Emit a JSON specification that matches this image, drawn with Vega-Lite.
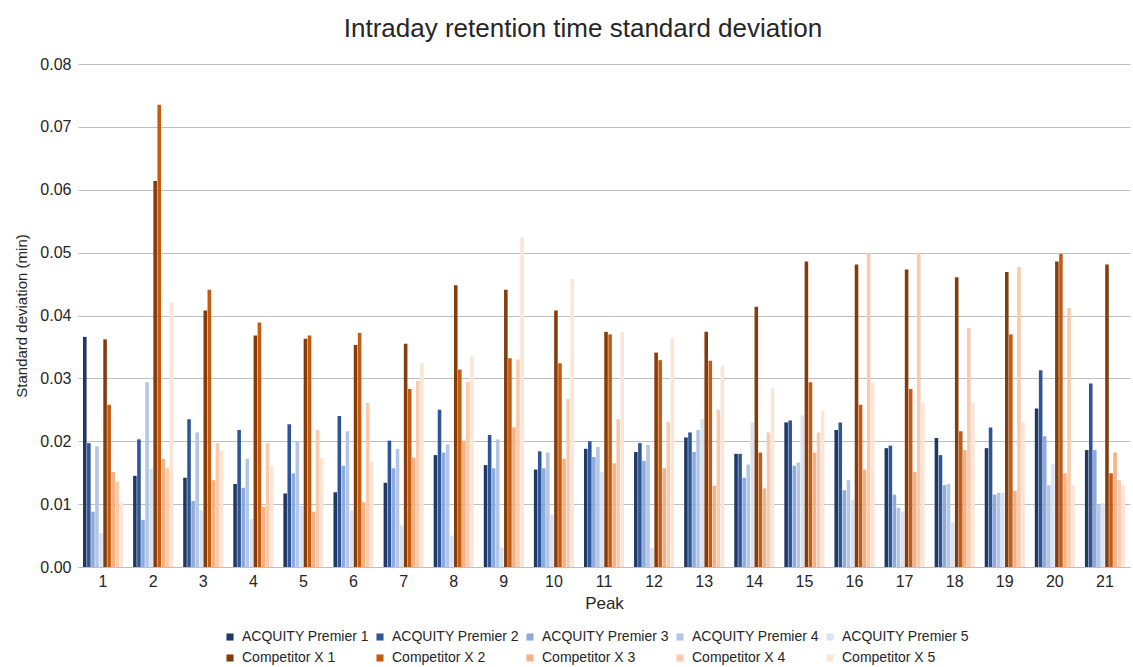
{
  "$schema": "https://vega.github.io/schema/vega-lite/v6.json",
  "width": 1052,
  "height": 503,
  "autosize": {"type": "none"},
  "padding": {"left": 78, "top": 64, "right": 3, "bottom": 100},
  "background": "white",
  "title": {
    "text": "Intraday retention time standard deviation",
    "fontSize": 26,
    "fontWeight": "normal",
    "color": "#262626",
    "font": "Liberation Sans",
    "anchor": "middle",
    "dx": -21,
    "offset": 14
  },
  "config": {
    "font": "Liberation Sans",
    "view": {"stroke": null}
  },
  "data": {
    "values": [
      {"peak": 1, "series": "ACQUITY Premier 1", "value": 0.0366},
      {"peak": 1, "series": "ACQUITY Premier 2", "value": 0.0197},
      {"peak": 1, "series": "ACQUITY Premier 3", "value": 0.0088},
      {"peak": 1, "series": "ACQUITY Premier 4", "value": 0.0192},
      {"peak": 1, "series": "ACQUITY Premier 5", "value": 0.0054},
      {"peak": 1, "series": "Competitor X 1", "value": 0.0362},
      {"peak": 1, "series": "Competitor X 2", "value": 0.0258},
      {"peak": 1, "series": "Competitor X 3", "value": 0.0151},
      {"peak": 1, "series": "Competitor X 4", "value": 0.0136},
      {"peak": 1, "series": "Competitor X 5", "value": 0.0103},
      {"peak": 2, "series": "ACQUITY Premier 1", "value": 0.0145},
      {"peak": 2, "series": "ACQUITY Premier 2", "value": 0.0203},
      {"peak": 2, "series": "ACQUITY Premier 3", "value": 0.0075},
      {"peak": 2, "series": "ACQUITY Premier 4", "value": 0.0294},
      {"peak": 2, "series": "ACQUITY Premier 5", "value": 0.0156},
      {"peak": 2, "series": "Competitor X 1", "value": 0.0614},
      {"peak": 2, "series": "Competitor X 2", "value": 0.0735},
      {"peak": 2, "series": "Competitor X 3", "value": 0.0172},
      {"peak": 2, "series": "Competitor X 4", "value": 0.0157},
      {"peak": 2, "series": "Competitor X 5", "value": 0.0421},
      {"peak": 3, "series": "ACQUITY Premier 1", "value": 0.0142},
      {"peak": 3, "series": "ACQUITY Premier 2", "value": 0.0235},
      {"peak": 3, "series": "ACQUITY Premier 3", "value": 0.0105},
      {"peak": 3, "series": "ACQUITY Premier 4", "value": 0.0214},
      {"peak": 3, "series": "ACQUITY Premier 5", "value": 0.0090},
      {"peak": 3, "series": "Competitor X 1", "value": 0.0408},
      {"peak": 3, "series": "Competitor X 2", "value": 0.0441},
      {"peak": 3, "series": "Competitor X 3", "value": 0.0138},
      {"peak": 3, "series": "Competitor X 4", "value": 0.0197},
      {"peak": 3, "series": "Competitor X 5", "value": 0.0185},
      {"peak": 4, "series": "ACQUITY Premier 1", "value": 0.0132},
      {"peak": 4, "series": "ACQUITY Premier 2", "value": 0.0218},
      {"peak": 4, "series": "ACQUITY Premier 3", "value": 0.0126},
      {"peak": 4, "series": "ACQUITY Premier 4", "value": 0.0172},
      {"peak": 4, "series": "ACQUITY Premier 5", "value": 0.0076},
      {"peak": 4, "series": "Competitor X 1", "value": 0.0368},
      {"peak": 4, "series": "Competitor X 2", "value": 0.0389},
      {"peak": 4, "series": "Competitor X 3", "value": 0.0096},
      {"peak": 4, "series": "Competitor X 4", "value": 0.0197},
      {"peak": 4, "series": "Competitor X 5", "value": 0.0161},
      {"peak": 5, "series": "ACQUITY Premier 1", "value": 0.0117},
      {"peak": 5, "series": "ACQUITY Premier 2", "value": 0.0227},
      {"peak": 5, "series": "ACQUITY Premier 3", "value": 0.0149},
      {"peak": 5, "series": "ACQUITY Premier 4", "value": 0.0199},
      {"peak": 5, "series": "ACQUITY Premier 5", "value": 0.0097},
      {"peak": 5, "series": "Competitor X 1", "value": 0.0363},
      {"peak": 5, "series": "Competitor X 2", "value": 0.0368},
      {"peak": 5, "series": "Competitor X 3", "value": 0.0088},
      {"peak": 5, "series": "Competitor X 4", "value": 0.0218},
      {"peak": 5, "series": "Competitor X 5", "value": 0.0174},
      {"peak": 6, "series": "ACQUITY Premier 1", "value": 0.0119},
      {"peak": 6, "series": "ACQUITY Premier 2", "value": 0.0240},
      {"peak": 6, "series": "ACQUITY Premier 3", "value": 0.0161},
      {"peak": 6, "series": "ACQUITY Premier 4", "value": 0.0216},
      {"peak": 6, "series": "ACQUITY Premier 5", "value": 0.0090},
      {"peak": 6, "series": "Competitor X 1", "value": 0.0353},
      {"peak": 6, "series": "Competitor X 2", "value": 0.0372},
      {"peak": 6, "series": "Competitor X 3", "value": 0.0103},
      {"peak": 6, "series": "Competitor X 4", "value": 0.0261},
      {"peak": 6, "series": "Competitor X 5", "value": 0.0168},
      {"peak": 7, "series": "ACQUITY Premier 1", "value": 0.0134},
      {"peak": 7, "series": "ACQUITY Premier 2", "value": 0.0201},
      {"peak": 7, "series": "ACQUITY Premier 3", "value": 0.0157},
      {"peak": 7, "series": "ACQUITY Premier 4", "value": 0.0188},
      {"peak": 7, "series": "ACQUITY Premier 5", "value": 0.0066},
      {"peak": 7, "series": "Competitor X 1", "value": 0.0355},
      {"peak": 7, "series": "Competitor X 2", "value": 0.0283},
      {"peak": 7, "series": "Competitor X 3", "value": 0.0174},
      {"peak": 7, "series": "Competitor X 4", "value": 0.0296},
      {"peak": 7, "series": "Competitor X 5", "value": 0.0324},
      {"peak": 8, "series": "ACQUITY Premier 1", "value": 0.0178},
      {"peak": 8, "series": "ACQUITY Premier 2", "value": 0.0250},
      {"peak": 8, "series": "ACQUITY Premier 3", "value": 0.0182},
      {"peak": 8, "series": "ACQUITY Premier 4", "value": 0.0195},
      {"peak": 8, "series": "ACQUITY Premier 5", "value": 0.0050},
      {"peak": 8, "series": "Competitor X 1", "value": 0.0448},
      {"peak": 8, "series": "Competitor X 2", "value": 0.0314},
      {"peak": 8, "series": "Competitor X 3", "value": 0.0201},
      {"peak": 8, "series": "Competitor X 4", "value": 0.0294},
      {"peak": 8, "series": "Competitor X 5", "value": 0.0335},
      {"peak": 9, "series": "ACQUITY Premier 1", "value": 0.0162},
      {"peak": 9, "series": "ACQUITY Premier 2", "value": 0.0210},
      {"peak": 9, "series": "ACQUITY Premier 3", "value": 0.0157},
      {"peak": 9, "series": "ACQUITY Premier 4", "value": 0.0203},
      {"peak": 9, "series": "ACQUITY Premier 5", "value": 0.0031},
      {"peak": 9, "series": "Competitor X 1", "value": 0.0441},
      {"peak": 9, "series": "Competitor X 2", "value": 0.0332},
      {"peak": 9, "series": "Competitor X 3", "value": 0.0222},
      {"peak": 9, "series": "Competitor X 4", "value": 0.0330},
      {"peak": 9, "series": "Competitor X 5", "value": 0.0524},
      {"peak": 10, "series": "ACQUITY Premier 1", "value": 0.0155},
      {"peak": 10, "series": "ACQUITY Premier 2", "value": 0.0184},
      {"peak": 10, "series": "ACQUITY Premier 3", "value": 0.0157},
      {"peak": 10, "series": "ACQUITY Premier 4", "value": 0.0182},
      {"peak": 10, "series": "ACQUITY Premier 5", "value": 0.0083},
      {"peak": 10, "series": "Competitor X 1", "value": 0.0408},
      {"peak": 10, "series": "Competitor X 2", "value": 0.0324},
      {"peak": 10, "series": "Competitor X 3", "value": 0.0172},
      {"peak": 10, "series": "Competitor X 4", "value": 0.0267},
      {"peak": 10, "series": "Competitor X 5", "value": 0.0458},
      {"peak": 11, "series": "ACQUITY Premier 1", "value": 0.0188},
      {"peak": 11, "series": "ACQUITY Premier 2", "value": 0.0200},
      {"peak": 11, "series": "ACQUITY Premier 3", "value": 0.0175},
      {"peak": 11, "series": "ACQUITY Premier 4", "value": 0.0191},
      {"peak": 11, "series": "ACQUITY Premier 5", "value": 0.0151},
      {"peak": 11, "series": "Competitor X 1", "value": 0.0374},
      {"peak": 11, "series": "Competitor X 2", "value": 0.0370},
      {"peak": 11, "series": "Competitor X 3", "value": 0.0165},
      {"peak": 11, "series": "Competitor X 4", "value": 0.0235},
      {"peak": 11, "series": "Competitor X 5", "value": 0.0374},
      {"peak": 12, "series": "ACQUITY Premier 1", "value": 0.0183},
      {"peak": 12, "series": "ACQUITY Premier 2", "value": 0.0197},
      {"peak": 12, "series": "ACQUITY Premier 3", "value": 0.0169},
      {"peak": 12, "series": "ACQUITY Premier 4", "value": 0.0194},
      {"peak": 12, "series": "ACQUITY Premier 5", "value": 0.0030},
      {"peak": 12, "series": "Competitor X 1", "value": 0.0341},
      {"peak": 12, "series": "Competitor X 2", "value": 0.0329},
      {"peak": 12, "series": "Competitor X 3", "value": 0.0157},
      {"peak": 12, "series": "Competitor X 4", "value": 0.0231},
      {"peak": 12, "series": "Competitor X 5", "value": 0.0364},
      {"peak": 13, "series": "ACQUITY Premier 1", "value": 0.0206},
      {"peak": 13, "series": "ACQUITY Premier 2", "value": 0.0214},
      {"peak": 13, "series": "ACQUITY Premier 3", "value": 0.0183},
      {"peak": 13, "series": "ACQUITY Premier 4", "value": 0.0218},
      {"peak": 13, "series": "ACQUITY Premier 5", "value": 0.0235},
      {"peak": 13, "series": "Competitor X 1", "value": 0.0374},
      {"peak": 13, "series": "Competitor X 2", "value": 0.0328},
      {"peak": 13, "series": "Competitor X 3", "value": 0.0129},
      {"peak": 13, "series": "Competitor X 4", "value": 0.0250},
      {"peak": 13, "series": "Competitor X 5", "value": 0.0320},
      {"peak": 14, "series": "ACQUITY Premier 1", "value": 0.0180},
      {"peak": 14, "series": "ACQUITY Premier 2", "value": 0.0180},
      {"peak": 14, "series": "ACQUITY Premier 3", "value": 0.0142},
      {"peak": 14, "series": "ACQUITY Premier 4", "value": 0.0163},
      {"peak": 14, "series": "ACQUITY Premier 5", "value": 0.0230},
      {"peak": 14, "series": "Competitor X 1", "value": 0.0414},
      {"peak": 14, "series": "Competitor X 2", "value": 0.0182},
      {"peak": 14, "series": "Competitor X 3", "value": 0.0125},
      {"peak": 14, "series": "Competitor X 4", "value": 0.0214},
      {"peak": 14, "series": "Competitor X 5", "value": 0.0284},
      {"peak": 15, "series": "ACQUITY Premier 1", "value": 0.0230},
      {"peak": 15, "series": "ACQUITY Premier 2", "value": 0.0233},
      {"peak": 15, "series": "ACQUITY Premier 3", "value": 0.0161},
      {"peak": 15, "series": "ACQUITY Premier 4", "value": 0.0166},
      {"peak": 15, "series": "ACQUITY Premier 5", "value": 0.0241},
      {"peak": 15, "series": "Competitor X 1", "value": 0.0486},
      {"peak": 15, "series": "Competitor X 2", "value": 0.0294},
      {"peak": 15, "series": "Competitor X 3", "value": 0.0182},
      {"peak": 15, "series": "Competitor X 4", "value": 0.0214},
      {"peak": 15, "series": "Competitor X 5", "value": 0.0248},
      {"peak": 16, "series": "ACQUITY Premier 1", "value": 0.0218},
      {"peak": 16, "series": "ACQUITY Premier 2", "value": 0.0230},
      {"peak": 16, "series": "ACQUITY Premier 3", "value": 0.0122},
      {"peak": 16, "series": "ACQUITY Premier 4", "value": 0.0138},
      {"peak": 16, "series": "ACQUITY Premier 5", "value": 0.0107},
      {"peak": 16, "series": "Competitor X 1", "value": 0.0481},
      {"peak": 16, "series": "Competitor X 2", "value": 0.0258},
      {"peak": 16, "series": "Competitor X 3", "value": 0.0155},
      {"peak": 16, "series": "Competitor X 4", "value": 0.0499},
      {"peak": 16, "series": "Competitor X 5", "value": 0.0294},
      {"peak": 17, "series": "ACQUITY Premier 1", "value": 0.0189},
      {"peak": 17, "series": "ACQUITY Premier 2", "value": 0.0193},
      {"peak": 17, "series": "ACQUITY Premier 3", "value": 0.0115},
      {"peak": 17, "series": "ACQUITY Premier 4", "value": 0.0094},
      {"peak": 17, "series": "ACQUITY Premier 5", "value": 0.0088},
      {"peak": 17, "series": "Competitor X 1", "value": 0.0473},
      {"peak": 17, "series": "Competitor X 2", "value": 0.0283},
      {"peak": 17, "series": "Competitor X 3", "value": 0.0151},
      {"peak": 17, "series": "Competitor X 4", "value": 0.0500},
      {"peak": 17, "series": "Competitor X 5", "value": 0.0261},
      {"peak": 18, "series": "ACQUITY Premier 1", "value": 0.0205},
      {"peak": 18, "series": "ACQUITY Premier 2", "value": 0.0178},
      {"peak": 18, "series": "ACQUITY Premier 3", "value": 0.0130},
      {"peak": 18, "series": "ACQUITY Premier 4", "value": 0.0132},
      {"peak": 18, "series": "ACQUITY Premier 5", "value": 0.0071},
      {"peak": 18, "series": "Competitor X 1", "value": 0.0461},
      {"peak": 18, "series": "Competitor X 2", "value": 0.0216},
      {"peak": 18, "series": "Competitor X 3", "value": 0.0186},
      {"peak": 18, "series": "Competitor X 4", "value": 0.0380},
      {"peak": 18, "series": "Competitor X 5", "value": 0.0261},
      {"peak": 19, "series": "ACQUITY Premier 1", "value": 0.0189},
      {"peak": 19, "series": "ACQUITY Premier 2", "value": 0.0222},
      {"peak": 19, "series": "ACQUITY Premier 3", "value": 0.0115},
      {"peak": 19, "series": "ACQUITY Premier 4", "value": 0.0118},
      {"peak": 19, "series": "ACQUITY Premier 5", "value": 0.0118},
      {"peak": 19, "series": "Competitor X 1", "value": 0.0469},
      {"peak": 19, "series": "Competitor X 2", "value": 0.0370},
      {"peak": 19, "series": "Competitor X 3", "value": 0.0121},
      {"peak": 19, "series": "Competitor X 4", "value": 0.0477},
      {"peak": 19, "series": "Competitor X 5", "value": 0.0230},
      {"peak": 20, "series": "ACQUITY Premier 1", "value": 0.0252},
      {"peak": 20, "series": "ACQUITY Premier 2", "value": 0.0313},
      {"peak": 20, "series": "ACQUITY Premier 3", "value": 0.0208},
      {"peak": 20, "series": "ACQUITY Premier 4", "value": 0.0130},
      {"peak": 20, "series": "ACQUITY Premier 5", "value": 0.0164},
      {"peak": 20, "series": "Competitor X 1", "value": 0.0486},
      {"peak": 20, "series": "Competitor X 2", "value": 0.0498},
      {"peak": 20, "series": "Competitor X 3", "value": 0.0149},
      {"peak": 20, "series": "Competitor X 4", "value": 0.0412},
      {"peak": 20, "series": "Competitor X 5", "value": 0.0130},
      {"peak": 21, "series": "ACQUITY Premier 1", "value": 0.0186},
      {"peak": 21, "series": "ACQUITY Premier 2", "value": 0.0292},
      {"peak": 21, "series": "ACQUITY Premier 3", "value": 0.0186},
      {"peak": 21, "series": "ACQUITY Premier 4", "value": 0.0099},
      {"peak": 21, "series": "ACQUITY Premier 5", "value": 0.0102},
      {"peak": 21, "series": "Competitor X 1", "value": 0.0481},
      {"peak": 21, "series": "Competitor X 2", "value": 0.0149},
      {"peak": 21, "series": "Competitor X 3", "value": 0.0182},
      {"peak": 21, "series": "Competitor X 4", "value": 0.0138},
      {"peak": 21, "series": "Competitor X 5", "value": 0.0130}
    ]
  },
  "mark": {"type": "bar"},
  "encoding": {
    "x": {
      "field": "peak",
      "type": "ordinal",
      "scale": {"paddingInner": 0.2, "paddingOuter": 0.1},
      "axis": {
        "title": "Peak",
        "labelAngle": 0,
        "labelFontSize": 16,
        "labelColor": "#262626",
        "labelPadding": 6,
        "titleFontSize": 17,
        "titleFontWeight": "normal",
        "titleColor": "#262626",
        "titlePadding": 6,
        "domainColor": "#bfbfbf",
        "ticks": false
      }
    },
    "xOffset": {
      "field": "series",
      "type": "nominal",
      "scale": {
        "domain": ["ACQUITY Premier 1", "ACQUITY Premier 2", "ACQUITY Premier 3", "ACQUITY Premier 4", "ACQUITY Premier 5", "Competitor X 1", "Competitor X 2", "Competitor X 3", "Competitor X 4", "Competitor X 5"],
        "paddingInner": 0.12
      }
    },
    "y": {
      "field": "value",
      "type": "quantitative",
      "scale": {"domain": [0, 0.08], "nice": false},
      "axis": {
        "title": "Standard deviation (min)",
        "values": [0, 0.01, 0.02, 0.03, 0.04, 0.05, 0.06, 0.07, 0.08],
        "format": ".2f",
        "labelFontSize": 16,
        "labelColor": "#262626",
        "labelPadding": 7,
        "titleFontSize": 15,
        "titleFontWeight": "normal",
        "titleColor": "#262626",
        "titlePadding": 10,
        "domain": false,
        "ticks": false,
        "gridColor": "#bfbfbf",
        "gridWidth": 1
      }
    },
    "color": {
      "field": "series",
      "type": "nominal",
      "scale": {
        "domain": ["ACQUITY Premier 1", "ACQUITY Premier 2", "ACQUITY Premier 3", "ACQUITY Premier 4", "ACQUITY Premier 5", "Competitor X 1", "Competitor X 2", "Competitor X 3", "Competitor X 4", "Competitor X 5"],
        "range": ["#203864", "#2e5597", "#8eaadb", "#b4c6e7", "#dae3f3", "#843c0b", "#c55a11", "#f4b183", "#f8cbad", "#fbe5d6"]
      },
      "legend": {
        "title": null,
        "orient": "none",
        "legendX": 145,
        "legendY": 566,
        "direction": "horizontal",
        "columns": 5,
        "symbolType": "square",
        "symbolSize": 50,
        "symbolStrokeWidth": 0,
        "labelFontSize": 14,
        "labelColor": "#262626",
        "labelOffset": 5,
        "columnPadding": 4,
        "rowPadding": 7
      }
    }
  }
}
